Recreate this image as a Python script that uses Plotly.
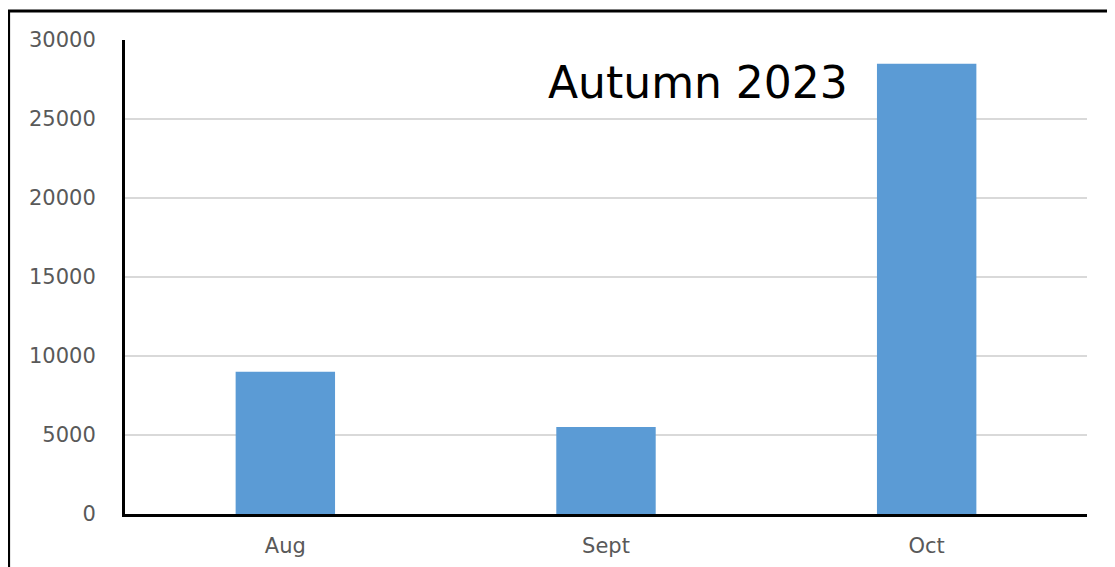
import plotly.graph_objects as go

months = ["Aug", "Sept", "Oct"]
values = [9000, 5500, 28500]
y_ticks = [0, 5000, 10000, 15000, 20000, 25000, 30000]
y_labels = [str(v) for v in y_ticks]

fig = go.Figure(go.Bar(x=months, y=values, marker_color="#5B9BD5", marker_line_width=0))

# html body has an 8px margin, so the margins are trimmed to land the plot where it should be
fig.update_layout(
    width=1115, height=567,
    margin=dict(l=117, r=36, t=32, b=61),
    plot_bgcolor="white", paper_bgcolor="white",
    bargap=0.69,
    showlegend=False,
    font=dict(family="DejaVu Sans", color="#595959", size=21),
)
fig.update_yaxes(
    range=[0, 30000], tickvals=y_ticks, ticktext=y_labels,
    showgrid=True, gridcolor="#d9d9d9", gridwidth=2,
    showline=True, linecolor="black", linewidth=3, zeroline=False,
    ticklabelstandoff=22,
)
fig.update_xaxes(
    showline=True, linecolor="black", linewidth=3, ticklabelstandoff=11,
)

# chart title inside plot area
fig.add_annotation(text="Autumn 2023", x=0.596, y=0.968, xref="paper", yref="paper",
                   showarrow=False, font=dict(size=44, color="black", family="DejaVu Sans"))

# outer frame of the pasted chart
fig.add_shape(type="rect", xref="paper", yref="paper", x0=-0.121, y0=-0.3, x1=1.2, y1=1.061,
              line=dict(color="black", width=3))

fig.write_html("out.html")
